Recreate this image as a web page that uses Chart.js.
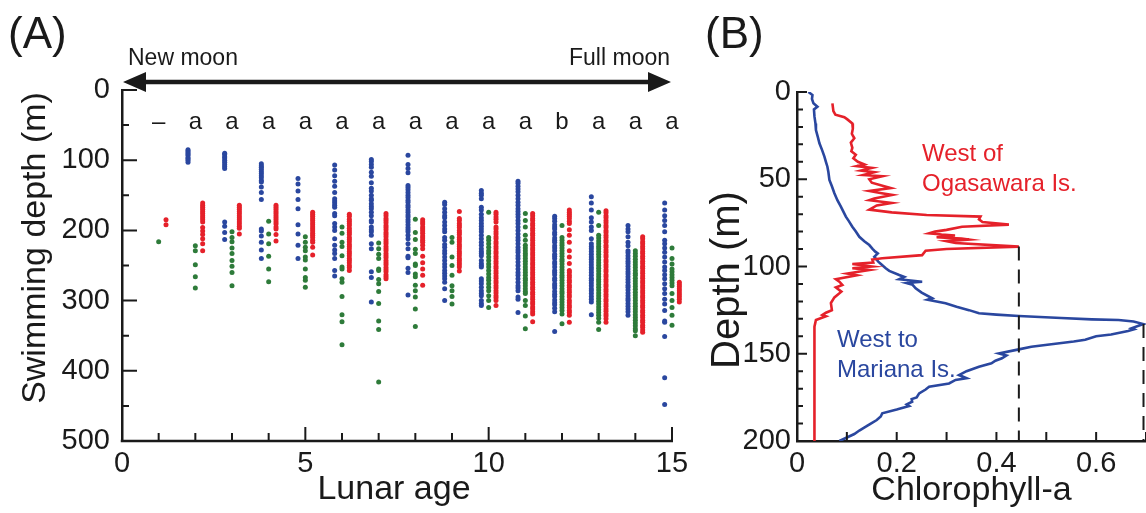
<!DOCTYPE html>
<html>
<head>
<meta charset="utf-8">
<title>Swimming depth and chlorophyll profiles</title>
<script src="https://cdn.jsdelivr.net/npm/chart.js@4.4.1/dist/chart.umd.min.js"></script>
<style>
  body { margin: 0; background: #fff; }
  #wrap { position: relative; width: 1146px; height: 513px; overflow: hidden; }
  canvas { position: absolute; top: 0; }
  #depthChart { left: 0; }
  #chlChart { left: 700px; }
</style>
</head>
<body>
<div id="wrap">
  <canvas id="depthChart" width="700" height="513"></canvas>
  <canvas id="chlChart" width="446" height="513"></canvas>
</div>
<script>
// ---- panel A: swimming depth per lunar age (three groups per day) ----
const lunarAges = [1, 2, 3, 4, 5, 6, 7, 8, 9, 10, 11, 12, 13, 14, 15];
const ageTicks = [0, 1, 2, 3, 4, 5, 6, 7, 8, 9, 10, 11, 12, 13, 14, 15];
const sigLetters = ['–', 'a', 'a', 'a', 'a', 'a', 'a', 'a', 'a', 'a', 'a', 'b', 'a', 'a', 'a'];

const blueDepths = [
  [],
  [85, 87, 89, 91, 93, 96, 98, 100, 103],
  [90, 92, 95, 97, 100, 103, 106, 109, 112, 188, 194, 203, 213],
  [105, 108, 110, 113, 116, 119, 122, 125, 129, 131, 138, 146, 156, 198, 201, 208, 217, 228, 240],
  [126, 134, 144, 156, 169, 192, 205, 221, 240],
  [107, 114, 122, 130, 137, 146, 155, 158, 161, 164, 167, 176, 179, 190, 195, 200, 212, 221, 228, 233, 240, 257, 265],
  [99, 102, 106, 110, 117, 123, 132, 140, 144, 150, 155, 157, 162, 166, 169, 174, 179, 186, 188, 195, 199, 202, 207, 219, 226, 259, 267, 302],
  [93, 106, 112, 118, 136, 139, 142, 146, 150, 153, 157, 160, 164, 167, 171, 174, 178, 181, 185, 188, 192, 196, 199, 202, 207, 212, 219, 226, 237, 239, 254, 260, 292],
  [160, 163, 169, 174, 179, 182, 188, 193, 198, 202, 210, 214, 220, 224, 229, 233, 238, 243, 248, 252, 257, 261, 265, 269, 274, 283, 300],
  [143, 147, 150, 155, 167, 171, 177, 182, 186, 190, 194, 198, 202, 207, 212, 217, 221, 226, 230, 233, 236, 243, 247, 250, 252, 269, 272, 276, 281, 286, 290, 293, 300, 304, 307],
  [130, 133, 137, 141, 145, 150, 155, 160, 164, 169, 173, 177, 181, 186, 190, 195, 200, 205, 210, 214, 219, 224, 228, 231, 236, 240, 245, 250, 255, 260, 264, 269, 274, 279, 282, 286, 295, 298, 317],
  [180, 183, 187, 192, 195, 198, 203, 206, 211, 214, 217, 222, 225, 229, 234, 237, 240, 245, 248, 252, 257, 260, 263, 268, 271, 276, 279, 282, 287, 291, 294, 299, 303, 306, 311, 316, 344],
  [152, 161, 171, 182, 188, 195, 200, 212, 219, 223, 226, 230, 234, 238, 241, 245, 249, 253, 256, 260, 264, 268, 271, 275, 279, 283, 286, 290, 294, 298, 302, 320],
  [193, 198, 202, 209, 217, 222, 229, 232, 236, 240, 244, 247, 251, 255, 259, 262, 266, 270, 274, 278, 281, 285, 289, 293, 297, 300, 304, 308, 312, 316, 321],
  [161, 171, 179, 186, 193, 202, 214, 219, 225, 231, 238, 245, 252, 257, 263, 269, 276, 283, 290, 298, 305, 314, 329, 331, 351, 410, 448]
];

const greenDepths = [
  [216],
  [222, 229, 249, 266, 282],
  [202, 210, 216, 225, 233, 243, 251, 260, 279],
  [187, 205, 219, 237, 255, 273],
  [209, 217, 224, 229, 238, 242, 255, 267, 271, 281],
  [195, 204, 217, 223, 236, 252, 255, 269, 274, 294, 320, 330, 363],
  [218, 226, 234, 240, 255, 257, 270, 276, 287, 304, 329, 341, 416],
  [184, 203, 213, 227, 233, 248, 250, 262, 266, 278, 286, 295, 312, 337],
  [210, 217, 238, 250, 264, 279, 286, 294, 305],
  [174, 210, 214, 219, 224, 229, 233, 238, 243, 248, 252, 257, 262, 267, 271, 276, 281, 286, 293, 300, 310],
  [176, 186, 195, 207, 214, 221, 225, 229, 233, 236, 240, 244, 248, 252, 256, 260, 264, 268, 271, 275, 279, 283, 287, 290, 300, 307, 322, 340],
  [193, 210, 214, 218, 221, 225, 229, 233, 237, 241, 244, 248, 252, 256, 260, 264, 267, 271, 275, 279, 283, 287, 290, 294, 298, 302, 306, 310, 314, 319, 333],
  [174, 193, 207, 211, 215, 219, 223, 226, 230, 234, 238, 242, 246, 250, 254, 258, 262, 266, 270, 273, 277, 281, 285, 289, 293, 297, 301, 305, 309, 313, 317, 321, 325, 331, 341],
  [229, 233, 237, 241, 245, 249, 253, 257, 261, 264, 268, 272, 276, 280, 284, 288, 292, 296, 300, 304, 308, 312, 316, 320, 324, 328, 332, 336, 340, 343, 350],
  [225, 240, 248, 255, 259, 263, 267, 271, 275, 279, 290, 300, 310, 321, 335]
];

const redDepths = [
  [185, 192],
  [161, 164, 167, 170, 173, 176, 179, 182, 185, 188, 196, 201, 206, 212, 219, 229],
  [164, 167, 170, 173, 176, 179, 182, 185, 188, 191, 194, 197, 205],
  [164, 167, 170, 173, 176, 179, 182, 185, 188, 191, 195, 198, 206, 215],
  [174, 177, 180, 183, 186, 189, 192, 195, 198, 201, 204, 207, 210, 214, 217, 224, 235],
  [177, 180, 184, 187, 190, 193, 197, 200, 203, 206, 210, 213, 216, 220, 223, 226, 230, 233, 236, 240, 243, 246, 250, 253, 257],
  [176, 179, 183, 186, 189, 193, 196, 199, 203, 206, 209, 213, 216, 219, 223, 226, 229, 233, 236, 239, 243, 246, 249, 253, 256, 259, 263, 266, 269],
  [185, 188, 191, 195, 198, 201, 204, 208, 211, 214, 217, 221, 226, 237, 246, 255, 264, 278],
  [173, 183, 186, 190, 193, 196, 200, 203, 206, 210, 213, 216, 220, 223, 226, 230, 233, 236, 240, 243, 246, 249, 252, 258],
  [174, 177, 181, 184, 188, 195, 198, 202, 205, 209, 212, 216, 219, 223, 226, 230, 233, 237, 240, 244, 247, 251, 254, 258, 261, 265, 268, 272, 275, 279, 282, 286, 289, 293, 296, 300, 307],
  [176, 179, 183, 186, 190, 193, 197, 200, 204, 207, 211, 214, 218, 221, 225, 228, 232, 235, 239, 242, 246, 249, 253, 256, 260, 263, 267, 270, 274, 277, 281, 284, 288, 291, 295, 298, 302, 305, 309, 312, 316, 319, 330],
  [171, 174, 177, 180, 183, 187, 190, 199, 207, 217, 229, 238, 247, 257, 260, 264, 267, 271, 274, 278, 281, 285, 288, 292, 295, 300, 303, 307, 310, 314, 317, 321, 331],
  [172, 175, 179, 182, 186, 189, 193, 196, 200, 203, 207, 210, 214, 217, 221, 224, 228, 231, 235, 238, 242, 245, 249, 252, 256, 259, 263, 266, 270, 273, 277, 280, 284, 287, 291, 294, 298, 301, 305, 308, 312, 315, 319, 322, 326, 331],
  [209, 212, 216, 219, 223, 226, 230, 233, 237, 240, 244, 247, 251, 254, 258, 261, 265, 268, 272, 275, 279, 282, 286, 289, 293, 296, 300, 303, 307, 310, 314, 317, 321, 324, 328, 331, 335, 338, 342, 345],
  [274, 277, 280, 283, 286, 289, 292, 295, 298, 302]
];

// ---- panel B: chlorophyll-a profiles ----
const ogasawaraDepth = [6.5, 11, 13, 14.5, 15.7, 18, 21, 24, 26.5, 29, 32, 34, 36, 38, 40, 41.5, 42.5, 43.5, 45, 46, 47.6, 48.3, 50, 52, 54, 55, 56.7, 58, 59, 61, 62, 63.6, 65, 67.4, 69, 70.5, 71.4, 73, 74.5, 76, 77.2, 79, 80, 81, 81.7, 82.2, 83.2, 84, 84.6, 85.5, 86.5, 88.6, 90, 91, 93.5, 95.3, 96, 97.7, 98.6, 100, 101, 102, 104, 105, 107.3, 108.7, 110.6, 112, 114.4, 117.7, 121, 125, 126.5, 127.8, 128.5, 130.7, 134.5, 200];
const ogasawaraChl = [0.071, 0.073, 0.077, 0.095, 0.101, 0.111, 0.112, 0.110, 0.115, 0.108, 0.111, 0.109, 0.118, 0.113, 0.122, 0.135, 0.120, 0.150, 0.128, 0.155, 0.133, 0.171, 0.145, 0.150, 0.175, 0.188, 0.145, 0.170, 0.191, 0.155, 0.145, 0.190, 0.160, 0.145, 0.190, 0.260, 0.368, 0.365, 0.372, 0.425, 0.331, 0.300, 0.277, 0.265, 0.290, 0.317, 0.280, 0.330, 0.345, 0.300, 0.318, 0.445, 0.300, 0.258, 0.251, 0.171, 0.151, 0.153, 0.111, 0.150, 0.111, 0.145, 0.101, 0.120, 0.078, 0.085, 0.091, 0.078, 0.089, 0.075, 0.068, 0.070, 0.058, 0.051, 0.058, 0.038, 0.035, 0.035];

const marianaDepth = [0, 1.7, 4, 6.5, 8.4, 10, 14, 18, 21.8, 26, 29.4, 33, 37, 40, 42.8, 46, 50.4, 54, 58, 62, 65.7, 68, 71.4, 74, 77.2, 80, 83, 85.5, 87.7, 90, 91.5, 92.5, 94.5, 97.2, 99, 101, 102.5, 104.9, 106, 107.3, 108.7, 109.5, 110.5, 112.5, 115, 118.2, 119, 121, 123, 125, 126.8, 127.6, 128.4, 129.5, 130.3, 130.7, 131.5, 133, 134, 135.4, 136, 137, 139, 140, 142, 143, 145, 146, 147.5, 149.8, 151, 152.6, 154, 155.5, 157.4, 160, 162.2, 164, 165, 167, 168.9, 170.5, 172.7, 175, 176, 177.5, 179, 180, 182, 184.1, 186, 188, 190, 191.8, 194, 196, 198, 200];
const marianaChl = [0.023, 0.031, 0.030, 0.033, 0.041, 0.034, 0.035, 0.037, 0.038, 0.042, 0.045, 0.050, 0.055, 0.058, 0.061, 0.063, 0.065, 0.070, 0.075, 0.081, 0.088, 0.092, 0.098, 0.104, 0.111, 0.118, 0.125, 0.135, 0.145, 0.152, 0.157, 0.162, 0.155, 0.163, 0.170, 0.178, 0.185, 0.205, 0.215, 0.205, 0.251, 0.220, 0.232, 0.238, 0.250, 0.271, 0.262, 0.298, 0.320, 0.345, 0.365, 0.400, 0.445, 0.530, 0.591, 0.645, 0.675, 0.695, 0.685, 0.671, 0.676, 0.664, 0.630, 0.600, 0.578, 0.555, 0.498, 0.470, 0.445, 0.405, 0.420, 0.411, 0.398, 0.390, 0.365, 0.340, 0.325, 0.340, 0.318, 0.305, 0.265, 0.258, 0.245, 0.240, 0.230, 0.231, 0.220, 0.225, 0.200, 0.171, 0.168, 0.160, 0.148, 0.138, 0.125, 0.115, 0.100, 0.085];

// ---- styling ----
const ink = '#1a1a1a';
const blue = '#2a479f';
const green = '#2e7b3a';
const red = '#e5212a';
const face = '"Liberation Sans", Arial, Helvetica, sans-serif';
const AGE_AXIS_END = ageTicks[ageTicks.length - 1];   // labelled end of the lunar-age axis

Chart.defaults.font.family = face;
Chart.defaults.color = ink;

function columnPoints(lists, shift) {
  const pts = [];
  lists.forEach((list, i) => {
    list.forEach(d => pts.push({ x: lunarAges[i] + shift, y: d }));
  });
  return pts;
}

function dotSet(data, color) {
  return {
    data,
    backgroundColor: color,
    borderWidth: 0,
    pointRadius: 2.5,
    pointHoverRadius: 2.5
  };
}

// ticks point into the plot area, longer ones on labelled values;
// optionally the bottom axis line is drawn here too, stopping at xEnd
function inwardTicks(xLen, yLen, xEnd) {
  return {
    id: 'inwardTicks',
    afterDatasetsDraw(chart) {
      const { ctx, chartArea: { left, bottom }, scales: { x, y } } = chart;
      ctx.save();
      ctx.strokeStyle = ink;
      ctx.lineWidth = 2;
      ctx.beginPath();
      x.ticks.forEach(t => {
        const px = x.getPixelForValue(t.value);
        ctx.moveTo(px, bottom);
        ctx.lineTo(px, bottom - xLen(t.value));
      });
      y.ticks.forEach(t => {
        const py = y.getPixelForValue(t.value);
        ctx.moveTo(left, py);
        ctx.lineTo(left + yLen(t.value), py);
      });
      ctx.stroke();
      if (xEnd !== undefined) {
        ctx.lineWidth = 2.5;
        ctx.beginPath();
        ctx.moveTo(left - 1.25, bottom);
        ctx.lineTo(x.getPixelForValue(xEnd) + 1, bottom);
        ctx.stroke();
      }
      ctx.restore();
    }
  };
}

function axisTitle(ctx, text, cx, cy, size, vertical) {
  ctx.save();
  ctx.translate(cx, cy);
  if (vertical) ctx.rotate(-Math.PI / 2);
  ctx.font = size + 'px ' + face;
  ctx.fillStyle = ink;
  ctx.textAlign = 'center';
  ctx.textBaseline = 'middle';
  ctx.fillText(text, 0, 0);
  ctx.restore();
}

const moonOverlay = {
  id: 'moonOverlay',
  afterDraw(chart) {
    const { ctx, scales: { x } } = chart;
    const x0 = x.getPixelForValue(0) + 1;
    const x1 = x.getPixelForValue(AGE_AXIS_END) - 1;
    const ay = 82;
    ctx.save();
    ctx.fillStyle = ink;
    ctx.strokeStyle = ink;
    ctx.lineWidth = 4.5;
    ctx.beginPath();
    ctx.moveTo(x0 + 12, ay);
    ctx.lineTo(x1 - 12, ay);
    ctx.stroke();
    ctx.beginPath();
    ctx.moveTo(x0, ay);
    ctx.lineTo(x0 + 23, ay - 10);
    ctx.lineTo(x0 + 23, ay + 10);
    ctx.closePath();
    ctx.moveTo(x1, ay);
    ctx.lineTo(x1 - 23, ay - 10);
    ctx.lineTo(x1 - 23, ay + 10);
    ctx.closePath();
    ctx.fill();

    ctx.textBaseline = 'alphabetic';
    ctx.font = '23px ' + face;
    ctx.textAlign = 'left';
    ctx.fillText('New moon', x0 + 5, 65);
    ctx.textAlign = 'right';
    ctx.fillText('Full moon', x1 - 1, 65);

    ctx.font = '44px ' + face;
    ctx.textAlign = 'left';
    ctx.fillText('(A)', 8, 48);

    ctx.font = '24px ' + face;
    ctx.textAlign = 'center';
    lunarAges.forEach((a, i) => ctx.fillText(sigLetters[i], x.getPixelForValue(a), 129));
    ctx.restore();

    const midX = (x.getPixelForValue(0) + x.getPixelForValue(AGE_AXIS_END)) / 2;
    axisTitle(ctx, 'Lunar age', midX - 3, 490, 34, false);
    axisTitle(ctx, 'Swimming depth (m)', 36, 248, 34, true);
  }
};

new Chart(document.getElementById('depthChart'), {
  type: 'scatter',
  data: {
    datasets: [
      dotSet(columnPoints(blueDepths, -0.2), blue),
      dotSet(columnPoints(greenDepths, 0), green),
      dotSet(columnPoints(redDepths, 0.2), red)
    ]
  },
  options: {
    responsive: false,
    devicePixelRatio: 1,
    animation: false,
    events: [],
    layout: { padding: { left: 0, top: 90, right: 17, bottom: 0 } },
    plugins: { legend: { display: false }, tooltip: { enabled: false } },
    scales: {
      x: {
        type: 'linear',
        min: 0,
        max: 15.3,   // a little room for the day-15 red column
        grid: { display: false, drawTicks: false },
        border: { display: false },
        afterBuildTicks: s => { s.ticks = ageTicks.map(v => ({ value: v })); },
        ticks: {
          autoSkip: false,
          maxRotation: 0,
          padding: 6,
          color: ink,
          font: { size: 29 },
          callback: v => (v % 5 === 0 ? v : '')
        },
        afterFit: s => { s.height = 72; }
      },
      y: {
        type: 'linear',
        reverse: true,
        min: 0,
        max: 500,
        grid: { display: false, drawTicks: false },
        border: { color: ink, width: 2.5 },
        ticks: {
          stepSize: 50,
          autoSkip: false,
          padding: 12,
          color: ink,
          font: { size: 29 },
          callback: v => (v % 100 === 0 ? v : '')
        },
        afterFit: s => { s.width = 122; }
      }
    }
  },
  plugins: [
    inwardTicks(v => (v % 5 === 0 ? 14 : 8), v => (v % 100 === 0 ? 15 : 7), AGE_AXIS_END),
    moonOverlay
  ]
});

// ---- panel B ----
function profile(chl, depth) {
  return chl.map((c, i) => ({ x: c, y: depth[i] }));
}

// dashed drop line from the maximum of a profile down to the bottom axis
function peakDrop(chl, depth) {
  let k = 0;
  chl.forEach((c, i) => { if (c > chl[k]) k = i; });
  return [{ x: chl[k], y: depth[k] }, { x: chl[k], y: 200 }];
}

const profileLabels = {
  id: 'profileLabels',
  afterDraw(chart) {
    const { ctx } = chart;
    ctx.save();
    ctx.textBaseline = 'alphabetic';
    ctx.textAlign = 'left';
    ctx.font = '44px ' + face;
    ctx.fillStyle = ink;
    ctx.fillText('(B)', 5, 48);
    ctx.font = '24px ' + face;
    ctx.fillStyle = red;
    ctx.fillText('West of', 222, 161);
    ctx.fillText('Ogasawara Is.', 222, 191);
    ctx.fillStyle = blue;
    ctx.fillText('West to', 137, 347);
    ctx.fillText('Mariana Is.', 137, 377);
    ctx.restore();

    axisTitle(ctx, 'Depth (m)', 28, 280, 40, true);
  }
};

new Chart(document.getElementById('chlChart'), {
  type: 'scatter',
  data: {
    datasets: [
      {
        data: peakDrop(ogasawaraChl, ogasawaraDepth),
        showLine: true,
        borderColor: ink,
        borderWidth: 2,
        borderDash: [14, 9],
        pointRadius: 0,
        clip: false
      },
      {
        data: peakDrop(marianaChl, marianaDepth),
        showLine: true,
        borderColor: ink,
        borderWidth: 2,
        borderDash: [14, 9],
        pointRadius: 0,
        clip: false
      },
      {
        data: profile(ogasawaraChl, ogasawaraDepth),
        showLine: true,
        borderColor: red,
        borderWidth: 2.6,
        pointRadius: 0,
        tension: 0
      },
      {
        data: profile(marianaChl, marianaDepth),
        showLine: true,
        borderColor: blue,
        borderWidth: 2.6,
        pointRadius: 0,
        tension: 0
      }
    ]
  },
  options: {
    responsive: false,
    devicePixelRatio: 1,
    animation: false,
    events: [],
    layout: { padding: { left: 0, top: 92, right: 0, bottom: 0 } },
    plugins: { legend: { display: false }, tooltip: { enabled: false } },
    scales: {
      x: {
        type: 'linear',
        min: 0,
        max: 0.7,
        grid: { display: false, drawTicks: false },
        border: { color: ink, width: 2.5 },
        ticks: {
          stepSize: 0.1,
          autoSkip: false,
          maxRotation: 0,
          padding: 6,
          color: ink,
          font: { size: 29 },
          callback: v => (Math.round(v * 10) % 2 === 0 ? String(Math.round(v * 10) / 10) : '')
        },
        title: { display: true, text: 'Chlorophyll-a', color: ink, font: { size: 34 }, padding: { top: 0, bottom: 2 } },
        afterFit: s => { s.height = 72; s.paddingRight = 0; }
      },
      y: {
        type: 'linear',
        reverse: true,
        min: 0,
        max: 200,
        grid: { display: false, drawTicks: false },
        border: { color: ink, width: 2.5 },
        ticks: {
          stepSize: 10,
          autoSkip: false,
          padding: 6,
          color: ink,
          font: { size: 29 },
          callback: v => (v % 50 === 0 ? v : '')
        },
        afterFit: s => { s.width = 97; }
      }
    }
  },
  plugins: [
    inwardTicks(() => 9, v => (v % 50 === 0 ? 10 : 6)),
    profileLabels
  ]
});
</script>
</body>
</html>
